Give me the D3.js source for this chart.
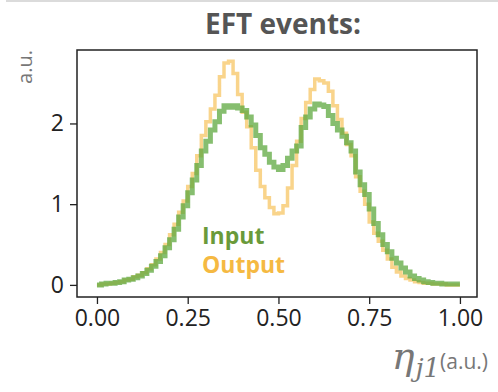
<!DOCTYPE html>
<html>
<head>
<meta charset="utf-8">
<script src="https://cdn.jsdelivr.net/npm/d3@7"></script>
<style>
  body { margin: 0; background: #fff; }
  svg { display: block; font-family: "Open Sans", "Noto Sans", sans-serif; }
</style>
</head>
<body>
<script>
// histogram bins on [0, 1]
var nBins = 80;
var inputVals = [0.00, 0.01, 0.02, 0.02, 0.03, 0.04, 0.06, 0.07, 0.09, 0.11,
                 0.14, 0.18, 0.23, 0.29, 0.36, 0.46, 0.56, 0.69, 0.84, 0.98,
                 1.14, 1.30, 1.48, 1.66, 1.78, 1.92, 2.02, 2.15, 2.22, 2.20,
                 2.22, 2.19, 2.16, 2.08, 1.98, 1.85, 1.70, 1.62, 1.52, 1.46,
                 1.43, 1.48, 1.57, 1.66, 1.72, 1.95, 2.08, 2.18, 2.24, 2.23,
                 2.21, 2.10, 2.00, 1.92, 1.84, 1.76, 1.66, 1.40, 1.24, 1.12,
                 0.94, 0.76, 0.62, 0.50, 0.41, 0.33, 0.27, 0.21, 0.16, 0.11,
                 0.08, 0.06, 0.04, 0.03, 0.02, 0.02, 0.01, 0.01, 0.01, 0.01];
var outputVals = [0.00, 0.01, 0.01, 0.02, 0.03, 0.04, 0.06, 0.07, 0.10, 0.12,
                  0.15, 0.20, 0.25, 0.32, 0.40, 0.50, 0.62, 0.75, 0.90, 1.04,
                  1.22, 1.38, 1.60, 1.85, 2.02, 2.18, 2.35, 2.58, 2.75, 2.77,
                  2.62, 2.36, 2.14, 1.96, 1.70, 1.42, 1.22, 1.08, 0.96, 0.88,
                  0.89, 0.98, 1.20, 1.48, 1.78, 2.06, 2.26, 2.42, 2.55, 2.53,
                  2.50, 2.40, 2.22, 2.05, 1.88, 1.74, 1.60, 1.34, 1.16, 1.00,
                  0.78, 0.64, 0.54, 0.43, 0.32, 0.22, 0.16, 0.11, 0.08, 0.06,
                  0.04, 0.03, 0.02, 0.02, 0.01, 0.01, 0.01, 0.00, 0.00, 0.00];
var xTicks = [0, 0.25, 0.5, 0.75, 1];
var yTicks = [0, 1, 2];
var seriesNames = ["Input", "Output"];

var width = 498, height = 392;
var box = {left: 77, right: 477, top: 50, bottom: 297};

var svg = d3.select("body").append("svg")
    .attr("width", width)
    .attr("height", height);

// faint line along the top of the screenshot
svg.append("line")
    .attr("x1", 6).attr("x2", width).attr("y1", 1).attr("y2", 1)
    .attr("stroke", "#cfcfcf").attr("stroke-width", 1.5);

var x = d3.scaleLinear().domain([-0.055, 1.047]).range([box.left, box.right]);
var y = d3.scaleLinear().domain([-0.15, 2.91]).range([box.bottom, box.top]);

// step points: left edge of every bin, plus closing right edge
function stepPoints(vals) {
    var pts = [[0, 0]];
    for (let i = 0; i < vals.length; i++) pts.push([i / nBins, vals[i]]);
    pts.push([1, vals[vals.length - 1]]);
    return pts;
}

var stepLine = d3.line()
    .x(function (d) { return x(d[0]); })
    .y(function (d) { return y(d[1]); })
    .curve(d3.curveStepAfter);

// output first, input drawn on top
svg.append("path")
    .attr("d", stepLine(stepPoints(outputVals)))
    .attr("fill", "none")
    .attr("stroke", "#f7c25a")
    .attr("stroke-opacity", 0.7)
    .attr("stroke-width", 3.5);

svg.append("path")
    .attr("d", stepLine(stepPoints(inputVals)))
    .attr("fill", "none")
    .attr("stroke", "#5ea83f")
    .attr("stroke-opacity", 0.75)
    .attr("stroke-width", 5);

// axes
var xAxis = d3.axisBottom(x).tickValues(xTicks).tickFormat(d3.format(".2f")).tickSize(7).tickPadding(6);
var yAxis = d3.axisLeft(y).tickValues(yTicks).tickFormat(d3.format("d")).tickSize(7).tickPadding(6);

var gx = svg.append("g").attr("transform", "translate(0," + box.bottom + ")").call(xAxis);
var gy = svg.append("g").attr("transform", "translate(" + box.left + ",0)").call(yAxis);
[gx, gy].forEach(function (g) {
    g.select(".domain").remove();
    g.selectAll(".tick line").attr("stroke", "#222").attr("stroke-width", 1.3);
    g.selectAll(".tick text").attr("fill", "#222").style("font-size", "23px")
        .style("font-family", "'Open Sans', sans-serif");
});

// frame
svg.append("rect")
    .attr("x", box.left).attr("y", box.top)
    .attr("width", box.right - box.left).attr("height", box.bottom - box.top)
    .attr("fill", "none").attr("stroke", "#222").attr("stroke-width", 1.5);

// title
svg.append("text")
    .attr("x", 283).attr("y", 34)
    .attr("text-anchor", "middle")
    .attr("fill", "#555")
    .style("font-size", "28px").style("font-weight", "bold")
    .text("EFT events:");

// y label, pinned to the top of the axis
svg.append("text")
    .attr("transform", "translate(32," + box.top + ") rotate(-90)")
    .attr("text-anchor", "end")
    .attr("fill", "#777")
    .style("font-size", "20px")
    .text("a.u.");

// x label
var xl = svg.append("text")
    .attr("x", 488).attr("y", 369)
    .attr("text-anchor", "end")
    .attr("fill", "#777");
xl.append("tspan").attr("font-size", 38).attr("font-style", "italic")
    .attr("font-family", "'DejaVu Serif', serif").text("\u03b7");
xl.append("tspan").attr("dx", 1).attr("dy", 8).attr("font-size", 26).attr("font-style", "italic")
    .attr("font-family", "'DejaVu Serif', serif").text("j1");
xl.append("tspan").attr("dy", -8).attr("font-size", 21).text("(a.u.)");

// legend text
var legendColors = ["#6a9a3a", "#f5b942"];
svg.selectAll(".legend").data(seriesNames).enter().append("text")
    .attr("class", "legend")
    .attr("x", 202)
    .attr("y", function (d, i) { return 244 + i * 29; })
    .attr("fill", function (d, i) { return legendColors[i]; })
    .style("font-size", "23px").style("font-weight", "bold")
    .text(function (d) { return d; });
</script>
</body>
</html>
